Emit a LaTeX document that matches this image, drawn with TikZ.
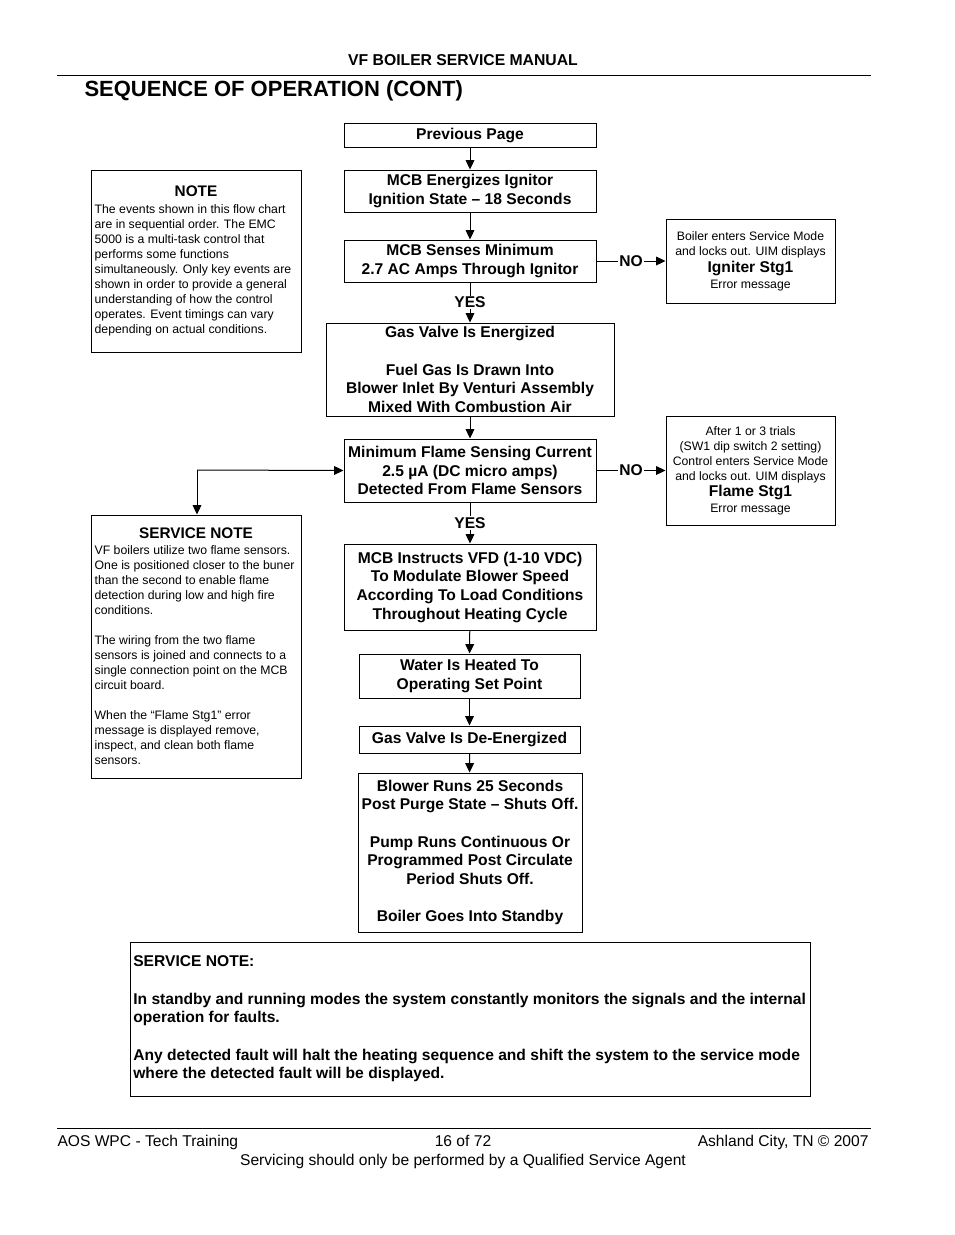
\documentclass[tikz,border=0pt]{standalone}
\usepackage{fontspec}
\setmainfont{Liberation Sans}
\usetikzlibrary{arrows.meta}

\newcommand{\boxfont}{\fontsize{11.7}{14}\selectfont\bfseries}
\newcommand{\smallfont}{\fontsize{9.2}{11.25}\selectfont}
\newcommand{\notehead}{\fontsize{11.5}{14}\selectfont\bfseries}
\newcommand{\errname}{\fontsize{11.7}{13.5}\selectfont\bfseries}
\newcommand{\footfont}{\fontsize{11.7}{14}\selectfont}

\tikzset{every picture/.style={line width=0.75pt}}
\tikzset{
  flowbox/.style={draw, align=center, font=\boxfont, inner sep=0pt},
  msgbox/.style={draw, align=center, font=\smallfont, inner sep=0pt},
  flowarrow/.style={-{Triangle[length=7pt,width=6.5pt]}},
  answer/.style={fill=white, inner sep=1pt, font=\boxfont}
}

\begin{document}
\begin{tikzpicture}[x=0.75pt,y=0.75pt,yscale=-1]
\useasboundingbox (0,0) rectangle (954,1235);

% Page header
\node [anchor=base, inner sep=0pt, font=\fontsize{11.8}{13}\selectfont\bfseries] (hdr) at (463,65) {VF BOILER SERVICE MANUAL};
\draw (57,75) -- (871,75);
\node [anchor=base west, inner sep=0pt, font=\fontsize{16.5}{19}\selectfont\bfseries] (title) at (84,96) {SEQUENCE OF OPERATION (CONT)};

%Shape: flow chart boxes
\node [flowbox, minimum width=189pt, minimum height=18pt] (prev) at (470,135) {Previous Page};
\node [flowbox, minimum width=189pt, minimum height=31.5pt] (energ) at (470,191) {MCB Energizes Ignitor\\Ignition State -- 18 Seconds};
\node [flowbox, minimum width=189pt, minimum height=31.5pt] (senses) at (470,261) {MCB Senses Minimum\\2.7 AC Amps Through Ignitor};
\node [flowbox, minimum width=216pt, minimum height=69.75pt] (gas) at (470,369.5) {Gas Valve Is Energized\\[14pt]Fuel Gas Is Drawn Into\\Blower Inlet By Venturi Assembly\\Mixed With Combustion Air};
\node [flowbox, minimum width=189pt, minimum height=47.25pt] (flame) at (470,470.5) {Minimum Flame Sensing Current\\2.5 µA (DC micro amps)\\Detected From Flame Sensors};
\node [flowbox, minimum width=189pt, minimum height=64.5pt] (vfd) at (470,587) {MCB Instructs VFD (1-10 VDC)\\To Modulate Blower Speed\\According To Load Conditions\\Throughout Heating Cycle};
\node [flowbox, minimum width=165.75pt, minimum height=33pt] (water) at (469.5,676) {Water Is Heated To\\Operating Set Point};
\node [flowbox, minimum width=165.75pt, minimum height=20.25pt] (deen) at (469.5,739.5) {Gas Valve Is De-Energized};
\node [flowbox, minimum width=168pt, minimum height=119.25pt] (blower) at (470,852.5) {Blower Runs 25 Seconds\\Post Purge State -- Shuts Off.\\[14pt]Pump Runs Continuous Or\\Programmed Post Circulate\\Period Shuts Off.\\[14pt]Boiler Goes Into Standby};

%Shape: error message boxes
\node [msgbox, minimum width=126.75pt, minimum height=63pt] (igniter) at (750.5,261) {Boiler enters Service Mode\\and locks out. UIM displays\\[1.5pt]{\errname Igniter Stg1}\\[1pt]Error message};
\node [msgbox, minimum width=126.75pt, minimum height=81.75pt] (flamestg) at (750.5,470.5) {After 1 or 3 trials\\(SW1 dip switch 2 setting)\\Control enters Service Mode\\and locks out. UIM displays\\[1pt]{\errname Flame Stg1}\\[0.5pt]Error message};

%Shape: note boxes
\node [draw, align=center, inner sep=0pt, minimum width=157.5pt, minimum height=136.5pt] (note) at (196,261) {{\notehead NOTE}\\[4.5pt]
\parbox{152pt}{\smallfont\raggedright The events shown in this flow chart\\are  in sequential order.  The EMC\\5000 is a multi-task control that\\performs some functions\\simultaneously. Only key events are\\shown in order to provide a general\\understanding of how the control\\operates. Event timings can vary\\depending on actual conditions.}};
\node [draw, align=center, inner sep=0pt, minimum width=157.5pt, minimum height=197.25pt] (svcnote) at (196,646.5) {{\notehead SERVICE NOTE}\\[4.5pt]
\parbox{152pt}{\smallfont\raggedright VF boilers utilize two flame sensors.\\One is positioned closer to the buner\\than the second to enable flame\\detection during low and high fire\\conditions.\\[11.25pt]The wiring from the two flame\\sensors is joined and connects to a\\single connection point on the MCB\\circuit board.\\[11.25pt]When the “Flame Stg1” error\\message is displayed remove,\\inspect, and clean both flame\\sensors.}};
\node [draw, inner sep=0pt, minimum width=510pt, minimum height=115.5pt] (bottom) at (470,1019) {\parbox{505pt}{\boxfont\raggedright SERVICE NOTE:\\[14pt]In standby and running modes the system constantly monitors the signals and the internal\\operation for faults.\\[14pt]Any detected fault will halt the heating sequence and shift the system to the service mode\\where the detected fault will be displayed.}};

%Straight Lines: flow connectors
\draw [flowarrow] (prev) -- (energ);
\draw [flowarrow] (energ) -- (senses);
\draw [flowarrow] (senses) -- node [answer] {YES} (gas);
\draw [flowarrow] (senses) -- node [answer] {NO} (igniter);
\draw [flowarrow] (gas) -- (flame);
\draw [flowarrow] (flame) -- node [answer] {NO} (flamestg);
\draw [flowarrow] (flame) -- node [answer] {YES} (vfd);
\draw [flowarrow] (vfd) -- (water);
\draw [flowarrow] (water) -- (deen);
\draw [flowarrow] (deen) -- (blower);

%Straight Lines: service note loop
\coordinate (loop) at (197,470);
\draw [flowarrow] (loop) -- (flame.west);
\draw [flowarrow] (loop) -- (loop |- svcnote.north);

% Page footer
\draw (57,1128) -- (871,1128);
\node [anchor=base west, inner sep=0pt, font=\footfont] (footl) at (57,1146) {AOS WPC - Tech Training};
\node [anchor=base, inner sep=0pt, font=\footfont] (footc) at (463,1146) {16 of 72};
\node [anchor=base east, inner sep=0pt, font=\footfont] (footr) at (869,1146) {Ashland City, TN © 2007};
\node [anchor=base, inner sep=0pt, font=\footfont] (foots) at (463,1165) {Servicing should only be performed by a Qualified Service Agent};

\end{tikzpicture}
\end{document}
